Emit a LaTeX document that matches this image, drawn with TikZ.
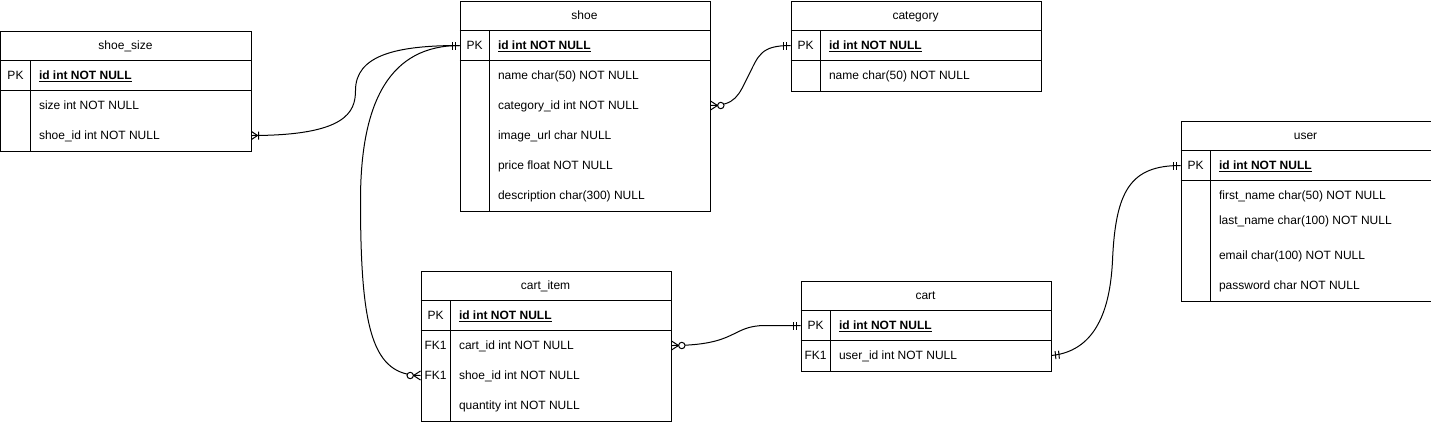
\documentclass[tikz,border=0pt]{standalone}
\usepackage{fontspec}
\setmainfont{Liberation Sans}

% Crow's foot line ends (tip at the table edge)
\pgfdeclarearrow{
  name = ERone,
  setup code = {
    \pgfarrowssettipend{0pt}
    \pgfarrowssetlineend{0pt}
    \pgfarrowssetbackend{-8pt}
    \pgfarrowsupperhullpoint{0pt}{4pt}
    \pgfarrowsupperhullpoint{-8pt}{4pt}
  },
  drawing code = {
    \pgfpathmoveto{\pgfqpoint{-4pt}{-4pt}}
    \pgfpathlineto{\pgfqpoint{-4pt}{4pt}}
    \pgfpathmoveto{\pgfqpoint{-7.5pt}{-4pt}}
    \pgfpathlineto{\pgfqpoint{-7.5pt}{4pt}}
    \pgfusepathqstroke
  }
}
\pgfdeclarearrow{
  name = ERonemany,
  setup code = {
    \pgfarrowssettipend{0pt}
    \pgfarrowssetlineend{0pt}
    \pgfarrowssetbackend{-8pt}
    \pgfarrowsupperhullpoint{0pt}{4pt}
    \pgfarrowsupperhullpoint{-8pt}{4pt}
  },
  drawing code = {
    \pgfpathmoveto{\pgfqpoint{0pt}{4pt}}
    \pgfpathlineto{\pgfqpoint{-6pt}{0pt}}
    \pgfpathlineto{\pgfqpoint{0pt}{-4pt}}
    \pgfpathmoveto{\pgfqpoint{-7pt}{-4pt}}
    \pgfpathlineto{\pgfqpoint{-7pt}{4pt}}
    \pgfusepathqstroke
  }
}
\pgfdeclarearrow{
  name = ERzeromany,
  setup code = {
    \pgfarrowssettipend{0pt}
    \pgfarrowssetlineend{0pt}
    \pgfarrowssetbackend{-14pt}
    \pgfarrowsupperhullpoint{0pt}{4.5pt}
    \pgfarrowsupperhullpoint{-14pt}{4.5pt}
  },
  drawing code = {
    \pgfpathmoveto{\pgfqpoint{0pt}{4.5pt}}
    \pgfpathlineto{\pgfqpoint{-7pt}{0pt}}
    \pgfpathlineto{\pgfqpoint{0pt}{-4.5pt}}
    \pgfusepathqstroke
    \pgfpathcircle{\pgfqpoint{-10.3pt}{0pt}}{3.2pt}
    \pgfsetfillcolor{white}
    \pgfusepathqfillstroke
  }
}

\begin{document}
\begin{tikzpicture}[x=1pt, y=-1pt, line width=1pt,
    every node/.style={font=\fontsize{12pt}{14pt}\selectfont, inner sep=0pt,
      text height=8.6pt, text depth=0pt},
    frame/.style={draw, anchor=north west, minimum width=250pt},
    field/.style={anchor=west},
    pk/.style={anchor=west, font=\fontsize{12pt}{14pt}\selectfont\bfseries}]

    \useasboundingbox (-0.5,-0.5) rectangle (1430.5,420.5);

    % shoe_size table
    \node[frame, minimum height=120pt] (shoesize) at (0,30) {};
    \draw (0,60) -- (250,60) (0,90) -- (250,90) (30,60) -- (30,150);
    \node (shoesize-title) at (125,45) {shoe\_size};
    \node (shoesize-pk) at (15,75) {PK};
    \node[pk] (shoesize-id) at (38,75) {\underline{id int NOT NULL}};
    \node[field] (shoesize-size) at (38,105) {size int NOT NULL};
    \node[field] (shoesize-shoeid) at (38,135) {shoe\_id int NOT NULL};

    % shoe table
    \node[frame, minimum height=210pt] (shoe) at (459,0) {};
    \draw (459,30) -- (709,30) (459,60) -- (709,60) (489,30) -- (489,210);
    \node (shoe-title) at (584,15) {shoe};
    \node (shoe-pk) at (474,45) {PK};
    \node[pk] (shoe-id) at (497,45) {\underline{id int NOT NULL}};
    \node[field] (shoe-name) at (497,75) {name char(50) NOT NULL};
    \node[field] (shoe-catid) at (497,105) {category\_id int NOT NULL};
    \node[field] (shoe-image) at (497,135) {image\_url char NULL};
    \node[field] (shoe-price) at (497,165) {price float NOT NULL};
    \node[field] (shoe-descr) at (497,195) {description char(300) NULL};

    % category table
    \node[frame, minimum height=90pt] (category) at (790,0) {};
    \draw (790,30) -- (1040,30) (790,60) -- (1040,60) (820,30) -- (820,90);
    \node (category-title) at (915,15) {category};
    \node (category-pk) at (805,45) {PK};
    \node[pk] (category-id) at (828,45) {\underline{id int NOT NULL}};
    \node[field] (category-name) at (828,75) {name char(50) NOT NULL};

    % user table
    \node[frame, minimum height=180pt] (user) at (1180,120) {};
    \draw (1180,150) -- (1430,150) (1180,180) -- (1430,180) (1210,150) -- (1210,300);
    \node (user-title) at (1305,135) {user};
    \node (user-pk) at (1195,165) {PK};
    \node[pk] (user-id) at (1218,165) {\underline{id int NOT NULL}};
    \node[field] (user-first) at (1218,195) {first\_name char(50) NOT NULL};
    \node[field] (user-last) at (1218,220) {last\_name char(100) NOT NULL};
    \node[field] (user-email) at (1218,255) {email char(100) NOT NULL};
    \node[field] (user-pass) at (1218,285) {password char NOT NULL};

    % cart_item table
    \node[frame, minimum height=150pt] (cartitem) at (420,270) {};
    \draw (420,300) -- (670,300) (420,330) -- (670,330) (450,300) -- (450,420);
    \node (cartitem-title) at (545,285) {cart\_item};
    \node (cartitem-pk) at (435,315) {PK};
    \node (cartitem-fk1) at (435,345) {FK1};
    \node (cartitem-fk2) at (435,375) {FK1};
    \node[pk] (cartitem-id) at (458,315) {\underline{id int NOT NULL}};
    \node[field] (cartitem-cartid) at (458,345) {cart\_id int NOT NULL};
    \node[field] (cartitem-shoeid) at (458,375) {shoe\_id int NOT NULL};
    \node[field] (cartitem-qty) at (458,405) {quantity int NOT NULL};

    % cart table
    \node[frame, minimum height=90pt] (cart) at (800,280) {};
    \draw (800,310) -- (1050,310) (800,340) -- (1050,340) (830,310) -- (830,370);
    \node (cart-title) at (925,295) {cart};
    \node (cart-pk) at (815,325) {PK};
    \node (cart-fk1) at (815,355) {FK1};
    \node[pk] (cart-id) at (838,325) {\underline{id int NOT NULL}};
    \node[field] (cart-userid) at (838,355) {user\_id int NOT NULL};

    % Relations
    \draw[ERonemany-ERone] (shoesize.east |- shoesize-shoeid)
        .. controls (345,135) and (355,112) .. (355,90)
        .. controls (355,55) and (395,45) .. (shoe.west |- shoe-id);
    \draw[ERzeromany-ERone] (cartitem.west |- cartitem-shoeid)
        .. controls (372,375) and (360,330) .. (360,200)
        .. controls (360,100) and (390,45) .. (shoe.west |- shoe-id);
    \draw[ERzeromany-ERone] (shoe.east |- shoe-catid)
        .. controls (735,105) and (738,95) .. (748,75)
        .. controls (758,55) and (760,45) .. (category.west |- category-id);
    \draw[ERzeromany-ERone] (cartitem.east |- cartitem-cartid)
        .. controls (738,345) and (730,325) .. (765,325)
        -- (cart.west |- cart-id);
    \draw[ERone-ERone] (cart.east |- cart-userid)
        .. controls (1100,350) and (1110,300) .. (1112,260)
        .. controls (1115,190) and (1130,165) .. (user.west |- user-id);

\end{tikzpicture}
\end{document}
